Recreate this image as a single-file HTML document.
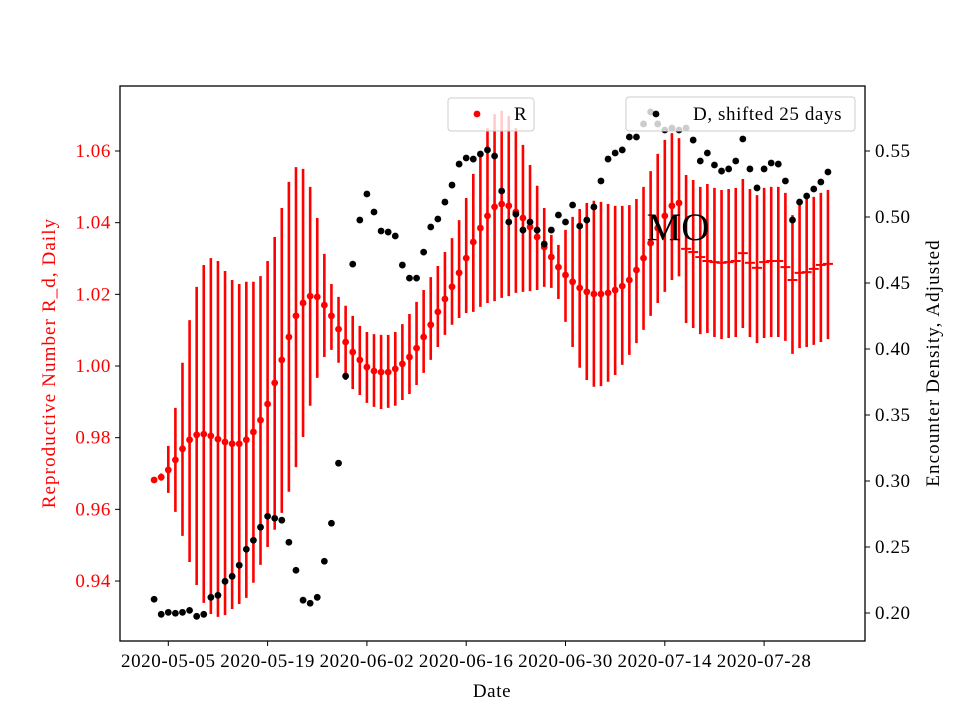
<!DOCTYPE html>
<html><head><meta charset="utf-8"><style>
body{margin:0;background:#fff}
svg{display:block;font-family:"Liberation Serif",serif}
</style></head><body>
<svg id="chart" width="960" height="720" viewBox="0 0 960 720" xmlns="http://www.w3.org/2000/svg">
<rect x="0" y="0" width="960" height="720" fill="#fff"/>
<g id="marks"></g>
<g id="axes"></g>
</svg>
<script>
const startDate = "2020-05-03";
const xTickLabels = ["2020-05-05","2020-05-19","2020-06-02","2020-06-16","2020-06-30","2020-07-14","2020-07-28"];
const xTickDays = [2,16,30,44,58,72,86];
const leftTicks = [0.94,0.96,0.98,1.00,1.02,1.04,1.06];
const rightTicks = [0.20,0.25,0.30,0.35,0.40,0.45,0.50,0.55];
const dotCount = 75;
const R = [0.9682,0.9690,0.9710,0.9738,0.9769,0.9794,0.9808,0.9810,0.9805,0.9796,0.9788,0.9783,0.9783,0.9794,0.9816,0.9849,0.9894,0.9953,1.0017,1.0081,1.0140,1.0176,1.0195,1.0193,1.0170,1.0140,1.0103,1.0067,1.0039,1.0017,0.9997,0.9986,0.9983,0.9983,0.9992,1.0006,1.0025,1.0050,1.0081,1.0115,1.0151,1.0187,1.0221,1.0260,1.0301,1.0346,1.0385,1.0419,1.0444,1.0452,1.0447,1.0430,1.0413,1.0388,1.0360,1.0332,1.0304,1.0276,1.0254,1.0235,1.0218,1.0207,1.0201,1.0201,1.0204,1.0212,1.0223,1.0240,1.0268,1.0301,1.0343,1.0385,1.0419,1.0447,1.0455,
1.0327,1.0318,1.0304,1.0293,1.0290,1.0288,1.0290,1.0293,1.0315,1.0288,1.0274,1.0290,1.0293,1.0293,1.0276,1.0240,1.0260,1.0262,1.0271,1.0282,1.0285];
const RHigh = [0.9682,0.9700,0.9777,0.9883,1.0009,1.0128,1.0221,1.0282,1.0301,1.0293,1.0265,1.0240,1.0229,1.0235,1.0235,1.0251,1.0293,1.0360,1.0441,1.0514,1.0555,1.0550,1.0500,1.0413,1.0313,1.0229,1.0193,1.0168,1.0140,1.0112,1.0095,1.0089,1.0087,1.0087,1.0095,1.0117,1.0145,1.0179,1.0212,1.0248,1.0279,1.0318,1.0357,1.0407,1.0469,1.0536,1.0600,1.0664,1.0703,1.0712,1.0698,1.0664,1.0617,1.0561,1.0503,1.0441,1.0366,1.0338,1.0380,1.0416,1.0438,1.0455,1.0461,1.0458,1.0452,1.0447,1.0447,1.0449,1.0466,1.0500,1.0544,1.0592,1.0631,1.0650,1.0636,
1.0533,1.0519,1.0500,1.0508,1.0497,1.0491,1.0494,1.0497,1.0522,1.0494,1.0477,1.0497,1.0500,1.0500,1.0483,1.0421,1.0449,1.0469,1.0472,1.0483,1.0491];
const RLow = [0.9682,0.9680,0.9646,0.9593,0.9526,0.9453,0.9389,0.9339,0.9308,0.9300,0.9305,0.9322,0.9336,0.9353,0.9395,0.9445,0.9495,0.9543,0.9590,0.9649,0.9718,0.9802,0.9889,0.9967,1.0025,1.0045,1.0009,0.9961,0.9936,0.9919,0.9897,0.9886,0.9880,0.9883,0.9889,0.9905,0.9922,0.9947,0.9981,1.0017,1.0053,1.0087,1.0115,1.0134,1.0148,1.0151,1.0165,1.0176,1.0181,1.0190,1.0195,1.0204,1.0207,1.0209,1.0212,1.0221,1.0218,1.0187,1.0123,1.0053,0.9995,0.9961,0.9942,0.9944,0.9956,0.9975,1.0003,1.0031,1.0064,1.0101,1.0140,1.0176,1.0207,1.0240,1.0250,
1.0120,1.0106,1.0089,1.0092,1.0081,1.0075,1.0078,1.0081,1.0106,1.0081,1.0064,1.0078,1.0081,1.0081,1.0070,1.0034,1.0050,1.0053,1.0059,1.0067,1.0075];
const D = [0.2104,0.1990,0.2005,0.1998,0.2005,0.2020,0.1975,0.1990,0.2119,0.2134,0.2240,0.2278,0.2362,0.2483,0.2551,0.2650,0.2733,0.2718,0.2703,0.2536,0.2324,0.2097,0.2074,0.2119,0.2392,0.2680,0.3135,0.3795,0.4643,0.4977,0.5174,0.5038,0.4894,0.4886,0.4856,0.4636,0.4537,0.4537,0.4734,0.4924,0.4985,0.5113,0.5242,0.5401,0.5447,0.5439,0.5477,0.5508,0.5462,0.5197,0.4962,0.5022,0.4901,0.4962,0.4901,0.4795,0.4901,0.5015,0.4962,0.5091,0.4932,0.4977,0.5076,0.5273,0.5439,0.5485,0.5508,0.5606,0.5606,0.5705,0.5796,0.5705,0.5659,0.5674,0.5659,0.5674,0.5583,0.5424,0.5485,0.5394,0.5348,0.5364,0.5424,0.5591,0.5364,0.5220,0.5364,0.5409,0.5401,0.5273,0.4977,0.5113,0.5159,0.5212,0.5265,0.5341];

const NS="http://www.w3.org/2000/svg";
const PL=120,PR=865,PT=86,PB=641;
const FS=19, LS=0.6;
function xDay(d){return 168.3+(d-2)*7.093;}
function yL(v){return 151+(1.06-v)/0.02*71.67;}
function yR(v){return 151+(0.55-v)/0.05*66;}
function mk(tag,attrs,parent){const e=document.createElementNS(NS,tag);for(const k in attrs)e.setAttribute(k,attrs[k]);parent.appendChild(e);return e;}
const marks=document.getElementById('marks');
const axes=document.getElementById('axes');

for(let i=0;i<R.length;i++){
  const l=mk('line',{x1:xDay(i),x2:xDay(i),y1:yL(RHigh[i]),y2:yL(RLow[i]),stroke:'#ff0000','stroke-width':2.6},marks);
  
  
}
for(let i=0;i<R.length;i++){
  let e;
  if(i<dotCount){e=mk('circle',{cx:xDay(i),cy:yL(R[i]),r:3.4,fill:'#ff0000'},marks);}
  else{e=mk('line',{x1:xDay(i)-5,x2:xDay(i)+5,y1:yL(R[i]),y2:yL(R[i]),stroke:'#ff0000','stroke-width':2},marks);}
  
  
}
for(let i=0;i<D.length;i++){
  const e=mk('circle',{cx:xDay(i),cy:yR(D[i]),r:3.4,fill:'#000'},marks);
  
  
}
const mo=mk('text',{x:678,y:240,'font-size':39,'text-anchor':'middle',fill:'#000'},marks);
mo.textContent='MO';



const lg1=mk('g',{},axes);


mk('rect',{x:448,y:98,width:86,height:33,rx:3,fill:'#fff','fill-opacity':0.8,stroke:'#ccc','stroke-width':1},lg1);
mk('circle',{cx:477,cy:114,r:3.4,fill:'#ff0000'},lg1);
const t1=mk('text',{x:514,y:120,'font-size':FS,fill:'#000'},lg1);t1.textContent='R';
const lg2=mk('g',{},axes);


mk('rect',{x:626,y:97,width:229,height:34,rx:3,fill:'#fff','fill-opacity':0.8,stroke:'#ccc','stroke-width':1},lg2);
mk('circle',{cx:656,cy:114,r:3.4,fill:'#000'},lg2);
const t2=mk('text',{x:693,y:120,'font-size':FS,'letter-spacing':0.6,fill:'#000'},lg2);t2.textContent='D, shifted 25 days';

const fr=mk('rect',{x:PL,y:PT,width:PR-PL,height:PB-PT,fill:'none',stroke:'#000','stroke-width':1.3},axes);


for(let i=0;i<xTickDays.length;i++){
  const x=xDay(xTickDays[i]);
  mk('line',{x1:x,x2:x,y1:PB,y2:PB+5,stroke:'#000','stroke-width':1},axes);
  const t=mk('text',{x:x,y:PB+26,'font-size':FS,'letter-spacing':LS,'text-anchor':'middle',fill:'#000'},axes);
  t.textContent=xTickLabels[i];
  
  
}
for(const v of leftTicks){
  const y=yL(v);
  mk('line',{x1:PL-5,x2:PL,y1:y,y2:y,stroke:'#000','stroke-width':1},axes);
  const t=mk('text',{x:PL-9,y:y+6,'font-size':FS,'letter-spacing':LS,'text-anchor':'end',fill:'#ff0000'},axes);
  t.textContent=v.toFixed(2);
  
  
}
for(const v of rightTicks){
  const y=yR(v);
  mk('line',{x1:PR,x2:PR+5,y1:y,y2:y,stroke:'#000','stroke-width':1},axes);
  const t=mk('text',{x:PR+10,y:y+6,'font-size':FS,'letter-spacing':LS,'text-anchor':'start',fill:'#000'},axes);
  t.textContent=v.toFixed(2);
  
  
}
const xt=mk('text',{x:492,y:697,'font-size':FS,'letter-spacing':0.6,'text-anchor':'middle',fill:'#000'},axes);
xt.textContent='Date';


const ylt=mk('text',{x:0,y:0,'font-size':FS,'letter-spacing':1.1,'text-anchor':'middle',fill:'#ff0000',transform:'translate(55,363) rotate(-90)'},axes);
ylt.textContent='Reproductive Number R_d, Daily';


const yrt=mk('text',{x:0,y:0,'font-size':FS,'letter-spacing':1.1,'text-anchor':'middle',fill:'#000',transform:'translate(939,363) rotate(-90)'},axes);
yrt.textContent='Encounter Density, Adjusted';


</script>
</body></html>
